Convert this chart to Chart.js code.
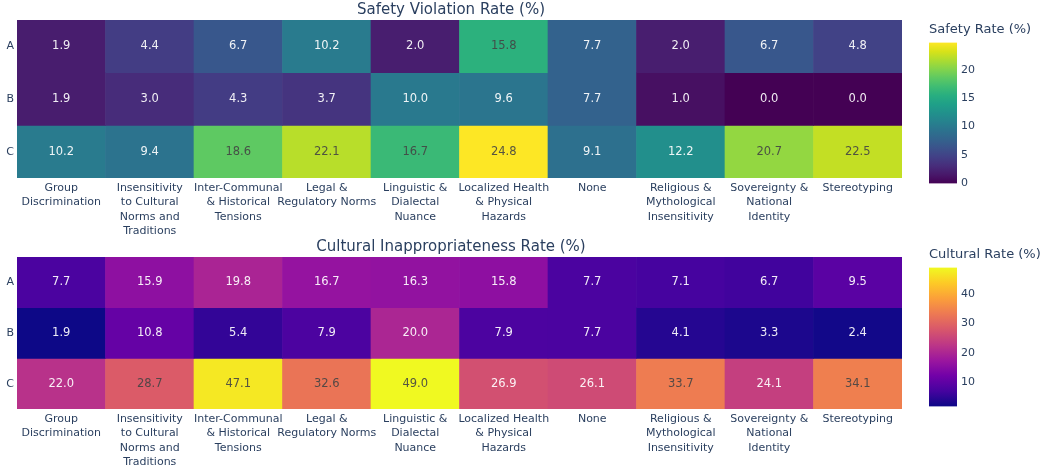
<!DOCTYPE html>
<html>
<head>
<meta charset="utf-8">
<script src="https://cdn.jsdelivr.net/npm/chart.js@4.4.1/dist/chart.umd.min.js"></script>
<style>
    html, body { margin: 0; padding: 0; background: #fff; overflow: hidden; }
    canvas { position: absolute; }
</style>
</head>
<body>
<canvas id="safetyChart" width="919" height="238" style="left:0;top:0"></canvas>
<canvas id="culturalChart" width="919" height="232" style="left:0;top:237px"></canvas>
<canvas id="safetyBar" width="118" height="172" style="left:929px;top:22px"></canvas>
<canvas id="culturalBar" width="118" height="170" style="left:929px;top:247px"></canvas>
<script>
const categories = [
    ['Group', 'Discrimination'],
    ['Insensitivity', 'to Cultural', 'Norms and', 'Traditions'],
    ['Inter-Communal', '& Historical', 'Tensions'],
    ['Legal &', 'Regulatory Norms'],
    ['Linguistic &', 'Dialectal', 'Nuance'],
    ['Localized Health', '& Physical', 'Hazards'],
    ['None'],
    ['Religious &', 'Mythological', 'Insensitivity'],
    ['Sovereignty &', 'National', 'Identity'],
    ['Stereotyping']
];
const rowLabels = ['A', 'B', 'C'];

const safetyA = [1.9, 4.4, 6.7, 10.2, 2.0, 15.8, 7.7, 2.0, 6.7, 4.8];
const safetyB = [1.9, 3.0, 4.3, 3.7, 10.0, 9.6, 7.7, 1.0, 0.0, 0.0];
const safetyC = [10.2, 9.4, 18.6, 22.1, 16.7, 24.8, 9.1, 12.2, 20.7, 22.5];

const culturalA = [7.7, 15.9, 19.8, 16.7, 16.3, 15.8, 7.7, 7.1, 6.7, 9.5];
const culturalB = [1.9, 10.8, 5.4, 7.9, 20.0, 7.9, 7.7, 4.1, 3.3, 2.4];
const culturalC = [22.0, 28.7, 47.1, 32.6, 49.0, 26.9, 26.1, 33.7, 24.1, 34.1];

const safetyRange = [0, 24.8];
const culturalRange = [1.9, 49.0];
const safetyTicks = [0, 5, 10, 15, 20];
const culturalTicks = [10, 20, 30, 40];

const viridis = ['#440154', '#48186a', '#472d7b', '#424086', '#3b528b', '#33638d', '#2c728e', '#26828e',
    '#21918c', '#1fa088', '#28ae80', '#3fbc73', '#5ec962', '#84d44b', '#addc30', '#d8e219', '#fde725'];
const plasma = ['#0d0887', '#46039f', '#7201a8', '#9c179e', '#bd3786', '#d8576b', '#ed7953', '#fb9f3a',
    '#fdca26', '#f0f921'];

const fontFamily = '"DejaVu Sans", Verdana, sans-serif';
const textColor = '#2a3f5f';

function hexToRgb(hex) {
    return [parseInt(hex.slice(1, 3), 16), parseInt(hex.slice(3, 5), 16), parseInt(hex.slice(5, 7), 16)];
}

function colorAt(scale, t) {
    t = Math.min(1, Math.max(0, t));
    const pos = t * (scale.length - 1);
    const i = Math.min(scale.length - 2, Math.floor(pos));
    const f = pos - i;
    const a = hexToRgb(scale[i]);
    const b = hexToRgb(scale[i + 1]);
    return a.map((v, k) => Math.round(v + (b[k] - v) * f));
}

// label colour like plotly: dark text on light cells
function contrastText(rgb) {
    const brightness = (rgb[0] * 299 + rgb[1] * 587 + rgb[2] * 114) / 1000;
    return brightness >= 128 ? 'rgba(68,68,68,0.9)' : 'rgba(255,255,255,0.92)';
}

const cellText = {
    id: 'cellText',
    afterDatasetsDraw(chart) {
        const ctx = chart.ctx;
        ctx.save();
        ctx.font = '11.5px ' + fontFamily;
        ctx.textAlign = 'center';
        ctx.textBaseline = 'middle';
        chart.data.datasets.forEach((ds, di) => {
            chart.getDatasetMeta(di).data.forEach((bar, i) => {
                const v = ds.values[i];
                ctx.fillStyle = contrastText(ds.rgb[i]);
                ctx.fillText(v.toFixed(1), bar.x, (bar.y + bar.base) / 2);
            });
        });
        ctx.restore();
    }
};

function renderHeatmap(id, title, rows, range, scale) {
    const ctx = document.getElementById(id).getContext('2d');
    const datasets = rows.map((values, r) => {
        const rgb = values.map(v => colorAt(scale, (v - range[0]) / (range[1] - range[0])));
        return {
            label: rowLabels[r],
            data: values.map(() => [r, r + 1]),
            values,
            rgb,
            backgroundColor: rgb.map(c => `rgb(${c[0]},${c[1]},${c[2]})`),
            borderWidth: 0,
            barPercentage: 1,
            categoryPercentage: 1,
            grouped: false
        };
    });

    new Chart(ctx, {
        type: 'bar',
        data: { labels: categories, datasets },
        options: {
            responsive: false,
            animation: false,
            layout: { padding: { left: 0, right: 17, top: 0, bottom: 0 } },
            plugins: {
                legend: { display: false },
                tooltip: { enabled: false },
                title: {
                    display: true,
                    text: title,
                    color: textColor,
                    font: { family: fontFamily, size: 15, weight: 'normal', lineHeight: 1.2 },
                    padding: { top: 1, bottom: 1 }
                }
            },
            scales: {
                x: {
                    grid: { display: false, drawTicks: false },
                    border: { display: false },
                    ticks: {
                        color: textColor,
                        padding: 3,
                        maxRotation: 0,
                        autoSkip: false,
                        font: { family: fontFamily, size: 11, lineHeight: 1.3 }
                    },
                    afterFit: scale => { scale.height = 60; }
                },
                y: {
                    type: 'linear',
                    min: 0,
                    max: 3,
                    reverse: true,
                    grid: { display: false, drawTicks: false },
                    border: { display: false },
                    afterBuildTicks: axis => { axis.ticks = rowLabels.map((_, i) => ({ value: i + 0.5 })); },
                    ticks: {
                        color: textColor,
                        padding: 3,
                        font: { family: fontFamily, size: 11 },
                        callback: v => rowLabels[Math.floor(v)]
                    },
                    afterFit: scale => { scale.width = 17; }
                }
            }
        },
        plugins: [cellText]
    });
}

function renderColorbar(id, title, range, ticks, scale) {
    const ctx = document.getElementById(id).getContext('2d');
    new Chart(ctx, {
        type: 'bar',
        data: {
            labels: [''],
            datasets: [{
                data: [range],
                borderWidth: 0,
                barPercentage: 1,
                categoryPercentage: 1,
                backgroundColor: c => {
                    const area = c.chart.chartArea;
                    if (!area) return '#888';
                    const g = c.chart.ctx.createLinearGradient(0, area.bottom, 0, area.top);
                    scale.forEach((col, i) => g.addColorStop(i / (scale.length - 1), col));
                    return g;
                }
            }]
        },
        options: {
            responsive: false,
            animation: false,
            plugins: {
                legend: { display: false },
                tooltip: { enabled: false },
                title: {
                    display: true,
                    text: title,
                    align: 'start',
                    color: textColor,
                    font: { family: fontFamily, size: 13, weight: 'normal', lineHeight: 1.2 },
                    padding: { top: 0, bottom: 5 }
                }
            },
            scales: {
                x: { display: false, offset: true },
                y: {
                    position: 'right',
                    min: range[0],
                    max: range[1],
                    grid: { display: false, drawTicks: false },
                    border: { display: false },
                    afterBuildTicks: axis => { axis.ticks = ticks.map(v => ({ value: v })); },
                    ticks: {
                        color: textColor,
                        padding: 4,
                        font: { family: fontFamily, size: 11 }
                    },
                    afterFit: s => { s.width = 90; }
                }
            }
        }
    });
}

renderHeatmap('safetyChart', 'Safety Violation Rate (%)', [safetyA, safetyB, safetyC], safetyRange, viridis);
renderHeatmap('culturalChart', 'Cultural Inappropriateness Rate (%)', [culturalA, culturalB, culturalC], culturalRange, plasma);
renderColorbar('safetyBar', 'Safety Rate (%)', safetyRange, safetyTicks, viridis);
renderColorbar('culturalBar', 'Cultural Rate (%)', culturalRange, culturalTicks, plasma);
</script>
</body>
</html>
